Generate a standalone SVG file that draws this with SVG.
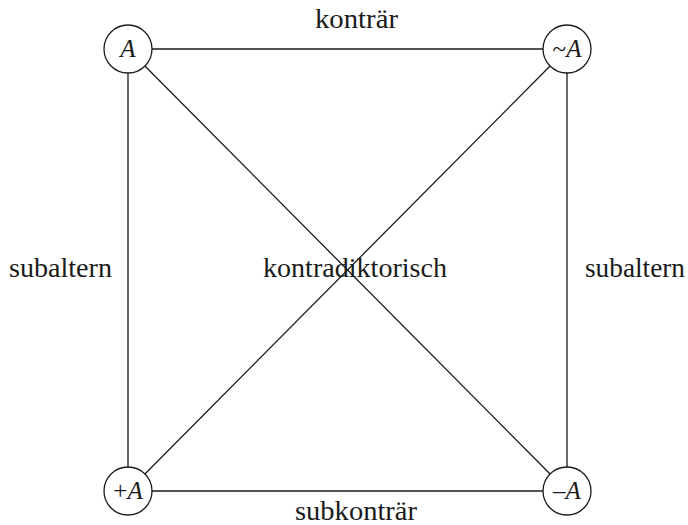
<svg xmlns="http://www.w3.org/2000/svg" width="688" height="525" viewBox="0 0 688 525">
<style>
.c{fill:#fff;stroke:#1a1a1a;stroke-width:1.3}
.l{stroke:#1a1a1a;stroke-width:1.3;fill:none}
.t{font-family:"Liberation Serif","DejaVu Serif",serif;font-size:28px;fill:#1a1a1a}
.n{font-family:"Liberation Serif","DejaVu Serif",serif;font-size:25px;fill:#1a1a1a;text-anchor:middle}
.i{font-style:italic}
</style>
<rect width="688" height="525" fill="#fff"/>
<g id="connectors">
<line class="l" x1="152" y1="49" x2="543" y2="49"/>
<line class="l" x1="152" y1="491" x2="543" y2="491"/>
<line class="l" x1="128" y1="73" x2="128" y2="467"/>
<line class="l" x1="567" y1="73" x2="567" y2="467"/>
<line class="l" x1="144.9" y1="66" x2="550.1" y2="474"/>
<line class="l" x1="550.1" y1="66" x2="144.9" y2="474"/>
</g>
<g id="labels">
<text class="t" x="315" y="28" textLength="83" lengthAdjust="spacingAndGlyphs">konträr</text>
<text class="t" x="295" y="520" textLength="122" lengthAdjust="spacingAndGlyphs">subkonträr</text>
<text class="t" x="9" y="277" textLength="103" lengthAdjust="spacingAndGlyphs">subaltern</text>
<text class="t" x="585" y="277" textLength="100" lengthAdjust="spacingAndGlyphs">subaltern</text>
<text class="t" x="263" y="277" textLength="184" lengthAdjust="spacingAndGlyphs">kontradiktorisch</text>
</g>
<g id="nodeA">
<circle class="c" cx="128" cy="49" r="24"/>
<text class="n" x="128" y="57"><tspan class="i">A</tspan></text>
</g>
<g id="nodeNotA">
<circle class="c" cx="567" cy="49" r="24"/>
<text class="n" x="567" y="57">~<tspan class="i">A</tspan></text>
</g>
<g id="nodePlusA">
<circle class="c" cx="128" cy="491" r="24"/>
<text class="n" x="128" y="499">+<tspan class="i">A</tspan></text>
</g>
<g id="nodeMinusA">
<circle class="c" cx="567" cy="491" r="24"/>
<text class="n" x="567" y="499">–<tspan class="i">A</tspan></text>
</g>
</svg>
